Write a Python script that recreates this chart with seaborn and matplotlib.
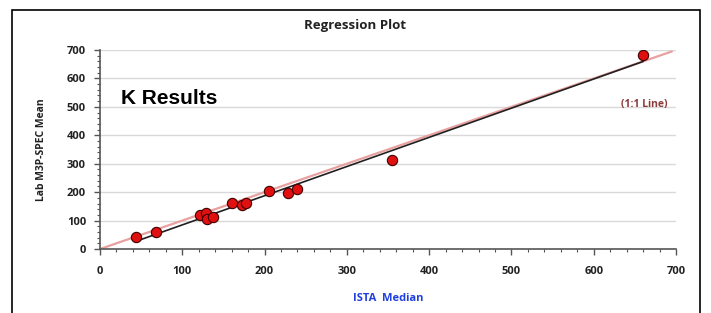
import matplotlib
matplotlib.use("Agg")
import matplotlib.pyplot as plt
import seaborn as sns
import pandas as pd
from matplotlib.patches import Rectangle
from matplotlib.ticker import MultipleLocator

ista_median = [44, 68, 122, 129, 130, 137, 161, 172, 178, 205, 229, 240, 355, 660]
lab_mean = [42, 60, 120, 127, 106, 113, 162, 155, 162, 204, 197, 211, 313, 683]
ticks = [0, 100, 200, 300, 400, 500, 600, 700]
one_to_one = [0, 695]

df = pd.DataFrame({"ISTA Median": ista_median, "Lab M3P-SPEC Mean": lab_mean})

sns.set_theme(style="white")
plt.rcParams['font.family'] = ['Open Sans', 'DejaVu Sans']

fig = plt.figure(figsize=(7.11, 3.13), dpi=100)
fig.patch.set_facecolor("white")

# frame around chart
fig.patches.append(Rectangle((12/711, -0.05), 688/711, 1 - 10/313 + 0.05,
                             transform=fig.transFigure, fill=False,
                             edgecolor="black", linewidth=1.2, zorder=0))

ax = fig.add_axes([100/711, 1 - 249/313, 576/711, 199/313])
ax.set_facecolor("none")

for t in ticks[1:]:
    ax.axhline(t, color="#d9d9d9", linewidth=1, zorder=0)

ax.plot(one_to_one, one_to_one, color="#e8a0a0", linewidth=1.6, zorder=1)
sns.regplot(data=df, x="ISTA Median", y="Lab M3P-SPEC Mean", ax=ax, ci=None,
            truncate=True,
            scatter_kws=dict(s=55, color="#e01010", edgecolor="#400000",
                             linewidths=0.8, alpha=1, zorder=3),
            line_kws=dict(color="#202020", linewidth=1.2, zorder=2))

ax.set_xlim(0, 700)
ax.set_ylim(0, 700)
ax.set_xticks(ticks)
ax.set_yticks(ticks)
ax.xaxis.set_minor_locator(MultipleLocator(20))
ax.yaxis.set_minor_locator(MultipleLocator(20))
ax.tick_params(axis="both", which="major", length=4, width=1, color="#555555",
               labelsize=8, direction="out")
ax.tick_params(axis="both", which="minor", length=2.5, width=0.8, color="#555555",
               direction="out")
ax.tick_params(axis="x", pad=8)
ax.tick_params(axis="y", pad=6)
ax.xaxis.set_ticks_position("bottom")
ax.yaxis.set_ticks_position("left")
for lab in ax.get_xticklabels() + ax.get_yticklabels():
    lab.set_fontweight("bold")
    lab.set_color("#222222")
for s in ["top", "right"]:
    ax.spines[s].set_visible(False)
for s in ["left", "bottom"]:
    ax.spines[s].set_color("#555555")
    ax.spines[s].set_linewidth(1.2)

ax.set_xlabel("ISTA  Median", color="#1f3fe0", fontweight="bold", fontsize=8,
              labelpad=12)
ax.set_ylabel("Lab M3P-SPEC Mean", color="#222222", fontweight="bold", fontsize=7.5,
              labelpad=14)

fig.text(355/711, 1 - 25/313, "Regression Plot", ha="center", va="center",
         fontsize=9.5, fontweight="bold", color="#222222")
fig.text(121/711, 1 - 98/313, "K Results", ha="left", va="center",
         fontsize=15, fontweight="bold", color="black", family=["Liberation Sans", "DejaVu Sans"])
fig.text(644/711, 1 - 104/313, "(1:1 Line)", ha="center", va="center",
         fontsize=7.5, fontweight="bold", color="#8b3a3a")

fig.savefig("out.png", dpi=100, facecolor="white")
